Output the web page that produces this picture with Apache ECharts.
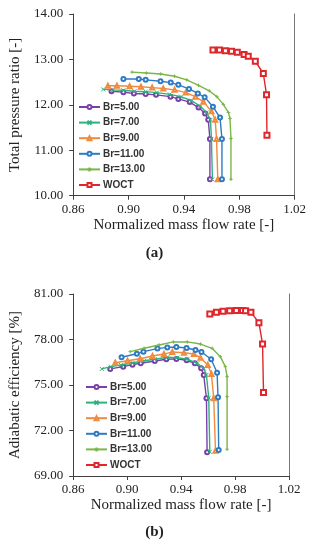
<!DOCTYPE html>
<html>
<head>
<meta charset="utf-8">
<script src="https://cdn.jsdelivr.net/npm/echarts@6/dist/echarts.min.js"></script>
<style>
html,body{margin:0;padding:0;background:#fff;}
#c{width:309px;height:550px;}
</style>
</head>
<body>
<div id="c"></div>
<script>
// ---------- DATA ----------
const seriesNames = ['Br=5.00', 'Br=7.00', 'Br=9.00', 'Br=11.00', 'Br=13.00', 'WOCT'];
const xTicks = [0.86, 0.90, 0.94, 0.98, 1.02];
const prTicks = [10, 11, 12, 13, 14];
const effTicks = [69, 72, 75, 78, 81];

// (a) Total pressure ratio vs normalized mass flow
const flowA_br5  = [0.8877, 0.8963, 0.9039, 0.9124, 0.9199, 0.9303, 0.9360, 0.9442, 0.9506, 0.9553, 0.9576, 0.9588, 0.9588];
const prA_br5    = [12.30, 12.28, 12.25, 12.24, 12.22, 12.18, 12.13, 12.06, 11.94, 11.81, 11.67, 11.25, 10.36];
const flowA_br7  = [0.8817, 0.8888, 0.8963, 0.9043, 0.9124, 0.9205, 0.9298, 0.9379, 0.9456, 0.9518, 0.9564, 0.9592, 0.9599, 0.9606];
const prA_br7    = [12.34, 12.33, 12.32, 12.30, 12.29, 12.27, 12.23, 12.18, 12.09, 11.97, 11.83, 11.67, 11.25, 10.36];
const flowA_br9  = [0.8851, 0.8916, 0.9008, 0.9090, 0.9171, 0.9251, 0.9333, 0.9414, 0.9483, 0.9541, 0.9599, 0.9626, 0.9636, 0.9645];
const prA_br9    = [12.42, 12.42, 12.41, 12.40, 12.38, 12.36, 12.33, 12.27, 12.18, 12.07, 11.86, 11.67, 11.25, 10.36];
const flowA_br11 = [0.8963, 0.9074, 0.9124, 0.9231, 0.9305, 0.9360, 0.9437, 0.9501, 0.9550, 0.9610, 0.9661, 0.9675, 0.9675];
const prA_br11   = [12.57, 12.57, 12.55, 12.52, 12.49, 12.44, 12.35, 12.25, 12.17, 11.96, 11.72, 11.25, 10.36];
const flowA_br13 = [0.9025, 0.9129, 0.9233, 0.9333, 0.9421, 0.9506, 0.9583, 0.9638, 0.9685, 0.9722, 0.9733, 0.9740, 0.9740];
const prA_br13   = [12.72, 12.70, 12.68, 12.63, 12.55, 12.43, 12.31, 12.18, 12.01, 11.83, 11.70, 11.26, 10.36];
const flowA_woct = [0.9610, 0.9657, 0.9700, 0.9744, 0.9786, 0.9835, 0.9865, 0.9916, 0.9974, 0.9997, 1.0000];
const prA_woct   = [13.21, 13.21, 13.19, 13.18, 13.16, 13.11, 13.07, 12.96, 12.69, 12.22, 11.33];

// (b) Adiabatic efficiency vs normalized mass flow
const flowB_br5  = [0.8875, 0.8971, 0.9040, 0.9101, 0.9205, 0.9291, 0.9365, 0.9441, 0.9502, 0.9549, 0.9568, 0.9588, 0.9593];
const effB_br5   = [76.06, 76.21, 76.34, 76.43, 76.58, 76.70, 76.72, 76.63, 76.43, 76.10, 75.66, 74.12, 70.56];
const flowB_br7  = [0.8812, 0.8880, 0.8954, 0.9040, 0.9126, 0.9205, 0.9298, 0.9372, 0.9446, 0.9520, 0.9568, 0.9588, 0.9605, 0.9613];
const effB_br7   = [76.06, 76.21, 76.32, 76.45, 76.60, 76.70, 76.83, 76.80, 76.70, 76.43, 76.10, 75.66, 74.16, 70.60];
const flowB_br9  = [0.8912, 0.9003, 0.9096, 0.9188, 0.9273, 0.9335, 0.9421, 0.9495, 0.9544, 0.9598, 0.9625, 0.9642, 0.9655];
const effB_br9   = [76.47, 76.60, 76.73, 76.91, 77.04, 77.18, 77.13, 77.04, 76.80, 76.32, 75.73, 74.12, 70.67];
const flowB_br11 = [0.8959, 0.9072, 0.9121, 0.9225, 0.9298, 0.9365, 0.9441, 0.9507, 0.9551, 0.9623, 0.9667, 0.9674, 0.9679];
const effB_br11  = [76.83, 77.06, 77.20, 77.40, 77.48, 77.51, 77.44, 77.31, 77.18, 76.70, 75.81, 74.19, 70.72];
const flowB_br13 = [0.9023, 0.9126, 0.9237, 0.9343, 0.9446, 0.9544, 0.9630, 0.9691, 0.9728, 0.9741, 0.9741, 0.9741];
const effB_br13  = [77.20, 77.42, 77.64, 77.84, 77.84, 77.70, 77.42, 76.87, 76.21, 75.55, 74.23, 70.76];
const flowB_woct = [0.9613, 0.9662, 0.9711, 0.9760, 0.9810, 0.9856, 0.9878, 0.9918, 0.9977, 1.0004, 1.0011];
const effB_woct  = [79.68, 79.79, 79.86, 79.90, 79.92, 79.92, 79.90, 79.79, 79.11, 77.70, 74.50];

// ---------- STYLE ----------
const colors = ['#7B3FA8', '#2DB27D', '#F08A3C', '#2E7BC4', '#7AB648', '#E0262A'];
const symbols = ['emptyCircle', 'path://M0,0L10,10M10,0L0,10', 'emptyTriangle', 'emptyCircle', 'path://M5,0L5,10M0,5L10,5', 'emptyRect'];
const symSizes = [4, 4, 4, 4, 3.5, 5];

const zip = (xs, ys) => xs.map((x, i) => [x, ys[i]]);
const dataA = [zip(flowA_br5, prA_br5), zip(flowA_br7, prA_br7), zip(flowA_br9, prA_br9),
               zip(flowA_br11, prA_br11), zip(flowA_br13, prA_br13), zip(flowA_woct, prA_woct)];
const dataB = [zip(flowB_br5, effB_br5), zip(flowB_br7, effB_br7), zip(flowB_br9, effB_br9),
               zip(flowB_br11, effB_br11), zip(flowB_br13, effB_br13), zip(flowB_woct, effB_woct)];

const serif = 'Liberation Serif';
const axisCol = '#404040';

function xAx(gridIndex) {
  return {
    type: 'value', gridIndex, min: xTicks[0], max: xTicks[xTicks.length - 1],
    interval: xTicks[1] - xTicks[0],
    name: 'Normalized mass flow rate [-]', nameLocation: 'middle', nameGap: 22,
    nameTextStyle: { fontFamily: serif, fontSize: 15, color: '#222' },
    axisLine: { show: true, lineStyle: { color: axisCol, width: 1 } },
    axisTick: { show: true, length: 4, lineStyle: { color: axisCol } },
    axisLabel: { fontFamily: serif, fontSize: 13, color: '#222', margin: 7, formatter: v => v.toFixed(2) },
    splitLine: { show: false }
  };
}
function yAx(gridIndex, ticks, name, gap) {
  return {
    type: 'value', gridIndex, min: ticks[0], max: ticks[ticks.length - 1],
    interval: ticks[1] - ticks[0],
    name, nameLocation: 'middle', nameGap: gap, nameRotate: 90,
    nameTextStyle: { fontFamily: serif, fontSize: 15, color: '#222' },
    axisLine: { show: true, lineStyle: { color: axisCol, width: 1 } },
    axisTick: { show: true, length: 4, lineStyle: { color: axisCol } },
    axisLabel: { fontFamily: serif, fontSize: 13, color: '#222', margin: 10, formatter: v => v.toFixed(2) },
    splitLine: { show: false }
  };
}
function rightAx(gridIndex, ticks) {
  return {
    type: 'value', gridIndex, position: 'right', min: ticks[0], max: ticks[ticks.length - 1],
    axisLine: { show: true, lineStyle: { color: '#777', width: 1 } },
    axisTick: { show: false }, axisLabel: { show: false }, splitLine: { show: false }
  };
}

const series = [];
[dataA, dataB].forEach((set, g) => {
  set.forEach((d, i) => {
    series.push({
      name: seriesNames[i], type: 'line', xAxisIndex: g, yAxisIndex: g,
      data: d, showAllSymbol: true,
      symbol: symbols[i], symbolSize: symSizes[i],
      lineStyle: { color: colors[i], width: 1.4 },
      itemStyle: { color: colors[i], borderColor: colors[i], borderWidth: 1 },
      z: 2 + i, animation: false
    });
  });
});

function legend(left, top) {
  return {
    data: seriesNames, orient: 'vertical', left, top,
    itemWidth: 21, itemHeight: 5, itemGap: 3.6,
    textStyle: { fontFamily: 'Liberation Sans', fontSize: 10, lineHeight: 12, fontWeight: 'bold', color: '#333', padding: [0, 0, 0, -2] },
    selectedMode: false
  };
}

const chart = echarts.init(document.getElementById('c'), null, { renderer: 'canvas' });
chart.setOption({
  animation: false,
  backgroundColor: '#fff',
  grid: [
    { left: 64.5, right: 14, top: 14, height: 181.7 },
    { left: 72, right: 20, top: 294, height: 182 }
  ],
  xAxis: [xAx(0), xAx(1)],
  yAxis: [
    yAx(0, prTicks, 'Total pressure ratio [-]', 45),
    yAx(1, effTicks, 'Adiabatic efficiency [%]', 47),
    rightAx(0, prTicks), rightAx(1, effTicks)
  ],
  legend: [legend(73, 96), legend(80, 376)],
  series,
  graphic: [
    { type: 'text', left: 'center', top: 246, style: { text: '(a)', font: 'bold 15px "Liberation Serif"', fill: '#222' } },
    { type: 'text', left: 'center', top: 525, style: { text: '(b)', font: 'bold 15px "Liberation Serif"', fill: '#222' } }
  ]
});
</script>
</body>
</html>
